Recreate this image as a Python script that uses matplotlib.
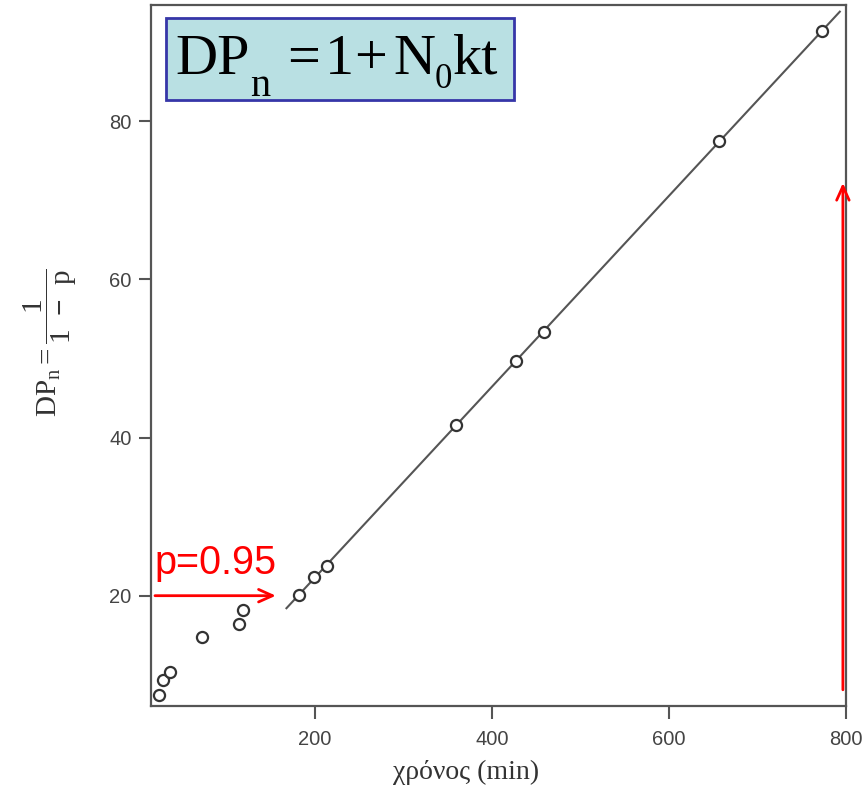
import numpy as np
import matplotlib
matplotlib.use("Agg")
import matplotlib.pyplot as plt
from matplotlib.patches import Rectangle

plt.rcParams['mathtext.fontset'] = 'custom'
plt.rcParams['mathtext.rm'] = 'Liberation Serif'
plt.rcParams['mathtext.it'] = 'Liberation Serif:italic'
plt.rcParams['mathtext.bf'] = 'Liberation Serif:bold'

# Reaction time (min) and number-average degree of polymerisation
time_min = [24, 28, 37, 73, 114, 119, 182, 199, 214, 360, 427, 459, 656, 773]
dp_n = [7.5, 9.4, 10.3, 14.8, 16.4, 18.2, 20.1, 22.4, 23.8, 41.6, 49.7, 53.3, 77.5, 91.4]

# Points on the linear (high-conversion) region used for the fitted line
linear_start = 6
fit_range = [168, 793]

x_ticks = [200, 400, 600, 800]
y_ticks = [20, 40, 60, 80]

W, H = 866, 792
fig = plt.figure(figsize=(W / 100, H / 100), dpi=100)
ax = fig.add_axes([151 / W, 1 - 706 / H, 695 / W, 701 / H])


def px(x, y):
    """Figure-fraction coordinates from pixel position (origin top-left)."""
    return x / W, 1 - y / H


slope, intercept = np.polyfit(time_min[linear_start:], dp_n[linear_start:], 1)
fit_t = np.array(fit_range, dtype=float)
ax.plot(fit_t, slope * fit_t + intercept, color='#555555', lw=1.5, zorder=2)

ax.plot(time_min, dp_n, linestyle='none', marker='o', markersize=8,
        markerfacecolor='white', markeredgecolor='#333333', markeredgewidth=1.6,
        zorder=3)

ax.set_xlim(15, 800)
ax.set_ylim(6.05, 94.7)
ax.set_xticks(x_ticks)
ax.set_yticks(y_ticks)
ax.tick_params(axis='both', direction='out', length=9, width=1.5,
               color='#555555', labelcolor='#444444', labelsize=14.5)
ax.tick_params(axis='x', pad=8)
ax.tick_params(axis='y', pad=5)
for lab in ax.get_xticklabels() + ax.get_yticklabels():
    lab.set_family('Liberation Sans')
for sp in ax.spines.values():
    sp.set_color('#555555')
    sp.set_linewidth(1.6)

# Axis titles
fig.text(*px(466, 772), 'χρόνος (min)', family='Liberation Serif', fontsize=20,
         color='#333333', ha='center', va='center')
fig.text(*px(50, 343), r'$\mathrm{DP_n} = \dfrac{1}{1\ \ \mathbf{-}\ \ \mathrm{p}}$',
         rotation=90, fontsize=21, color='#333333', ha='center', va='center')

# Equation box
fig.patches.append(Rectangle(px(166, 100), 348 / W, 82 / H,
                             transform=fig.transFigure, facecolor='#b9e0e3',
                             edgecolor='#3636a8', lw=2, zorder=5))
eq_font = dict(family='Liberation Serif', color='black', ha='left',
               va='baseline', zorder=6)
fig.text(*px(175, 74), 'DP', fontsize=42, **eq_font)
fig.text(*px(250, 96), 'n', fontsize=29, **eq_font)
fig.text(*px(287, 74), '=', fontsize=42, **eq_font)
fig.text(*px(325, 74), '1', fontsize=42, **eq_font)
fig.text(*px(354, 74), '+', fontsize=42, **eq_font)
fig.text(*px(393, 74), 'N', fontsize=42, **eq_font)
fig.text(*px(435, 88), '0', fontsize=25, **eq_font)
fig.text(*px(453, 74), 'kt', fontsize=42, **eq_font)

# Red annotations
ax.text(19.5, 22.8, 'p=0.95', color='red', fontsize=28.5,
        family='Liberation Sans', ha='left', va='baseline')
ax.annotate('', xy=(156, 20), xytext=(19.5, 20),
            arrowprops=dict(arrowstyle='->,head_length=1.0,head_width=0.45',
                            color='red', lw=2, shrinkA=0, shrinkB=0),
            annotation_clip=False)
ax.annotate('', xy=(796.5, 72.2), xytext=(796.5, 8.1),
            arrowprops=dict(arrowstyle='->,head_length=1.0,head_width=0.45',
                            color='red', lw=2, shrinkA=0, shrinkB=0),
            annotation_clip=False)

fig.savefig('out.png', dpi=100)
